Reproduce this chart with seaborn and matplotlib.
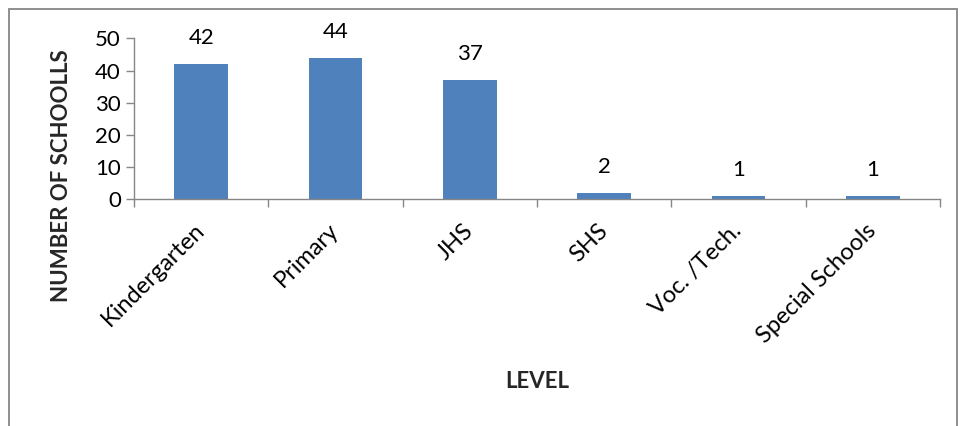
import matplotlib
matplotlib.use("Agg")
import matplotlib.pyplot as plt
import seaborn as sns
import pandas as pd
import numpy as np
from matplotlib.patches import Rectangle

levels = ["Kindergarten", "Primary", "JHS", "SHS", "Voc. /Tech.", "Special Schools"]
schools = [42, 44, 37, 2, 1, 1]
y_ticks = [0, 10, 20, 30, 40, 50]

sns.set_theme(style="white")
plt.rcParams["font.family"] = ["Lato", "DejaVu Sans"]

df = pd.DataFrame({"level": levels, "schools": schools})

fs = 16
fig = plt.figure(figsize=(9.62, 4.26), dpi=100)
W, H = 962, 426
ax = fig.add_axes([134 / W, 1 - 199.3 / H, (940 - 134) / W, (199.3 - 38.5) / H])

sns.barplot(data=df, x="level", y="schools", color="#4F81BD", width=0.4,
            saturation=1, ax=ax, edgecolor="none")

ax.set_xlim(-0.5, len(levels) - 0.5)
ax.set_ylim(0, 50)
ax.set_yticks(y_ticks)
ax.set_yticklabels([str(v) for v in y_ticks], fontsize=fs, color="black")

ax.set_xticks(range(len(levels)))
ax.set_xticklabels(levels, rotation=45, ha="right", va="center",
                   rotation_mode="anchor", fontsize=17, color="black")
ax.tick_params(axis="x", which="major", length=0, pad=20)
ax.set_xticks(np.arange(-0.5, len(levels), 1), minor=True)
ax.tick_params(axis="x", which="minor", length=5.5, width=1, color="#868686", direction="out", bottom=True)
ax.tick_params(axis="y", length=5.5, width=1, color="#868686", direction="out", left=True, pad=4)

for s in ["top", "right"]:
    ax.spines[s].set_visible(False)
for s in ["left", "bottom"]:
    ax.spines[s].set_color("#868686")
    ax.spines[s].set_linewidth(1)

for i, v in enumerate(schools):
    ax.annotate(str(v), (i, v), xytext=(0, 26), textcoords="offset pixels",
                ha="center", va="center", fontsize=fs, color="black")

ax.set_xlabel("")
ax.set_ylabel("")
fig.text(537 / W, 1 - 381 / H, "LEVEL", ha="center", va="center",
         fontsize=fs, fontweight="bold")
fig.text(62 / W, 1 - 176 / H, "NUMBER OF SCHOOLLS", ha="center", va="center",
         rotation=90, fontsize=fs, fontweight="bold")

fig.patches.append(Rectangle((9 / W, -0.1), (957 - 9) / W, 1.1 - 9.5 / H,
                             transform=fig.transFigure, fill=False,
                             edgecolor="#868686", linewidth=1.3))

fig.savefig("out.png", dpi=100)
